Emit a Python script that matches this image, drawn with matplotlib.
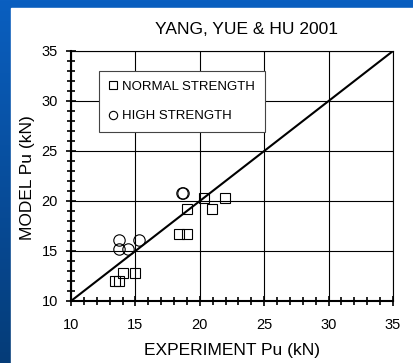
import numpy as np
import matplotlib
matplotlib.use('Agg')
import matplotlib.pyplot as plt
from matplotlib.lines import Line2D
from matplotlib.patches import Rectangle
from matplotlib.colors import LinearSegmentedColormap

plt.rcParams['font.family'] = ['Liberation Sans', 'DejaVu Sans']

# ── Данные: эксперимент vs модель, Pu (kN)
normal_exp   = [13.4, 13.75, 14.0, 15.0, 18.4, 19.0, 19.0, 20.3, 20.95, 21.95]
normal_model = [12.05, 12.05, 12.8, 12.8, 16.7, 16.7, 19.2, 20.35, 19.2, 20.35]

high_exp   = [13.7, 13.7, 14.45, 15.25, 18.6, 18.7]
high_model = [16.1, 15.2, 15.2, 16.1, 20.85, 20.85]

fig = plt.figure(figsize=(4.14, 3.63), dpi=100)

# фон слайда: синий градиент + белая подложка
bg = fig.add_axes([0, 0, 1, 1], zorder=-2)
bg.axis('off')
cmap = LinearSegmentedColormap.from_list('slide', ['#0a5fc0', '#053c78'])
bg.imshow(np.linspace(0, 1, 256).reshape(-1, 1), aspect='auto', cmap=cmap,
          extent=[0, 1, 0, 1])
bg.add_patch(Rectangle((11 / 414, 0), 1, 1 - 8 / 363, color='white',
                       transform=bg.transAxes))
bg.set_xlim(0, 1); bg.set_ylim(0, 1)

ax = fig.add_axes([71 / 414, 62 / 363, 322 / 414, 250 / 363])
ax.set_xlim(10, 35)
ax.set_ylim(10, 35)

ax.plot([10, 35], [10, 35], color='black', linewidth=1.5)
ax.plot(normal_exp, normal_model, linestyle='none', marker='s',
        markersize=7.8, markerfacecolor='none', markeredgecolor='black',
        markeredgewidth=0.8)
ax.plot(high_exp, high_model, linestyle='none', marker='o',
        markersize=8.2, markerfacecolor='none', markeredgecolor='black',
        markeredgewidth=0.8)

ax.set_xticks(np.arange(10, 36, 5))
ax.set_yticks(np.arange(10, 36, 5))
ax.set_xticks(np.arange(10, 36, 1), minor=True)
ax.set_yticks(np.arange(10, 36, 1), minor=True)
ax.grid(True, which='major', color='black', linewidth=0.8)
ax.tick_params(which='both', direction='inout', top=False, right=False,
               labelsize=10.5, width=1.2)
ax.tick_params(which='major', length=7)
ax.tick_params(which='minor', length=6)
ax.tick_params(axis='x', pad=9)
ax.tick_params(axis='y', pad=6)
for s in ax.spines.values():
    s.set_linewidth(0.8)
ax.spines['left'].set_linewidth(1.5)
ax.spines['bottom'].set_linewidth(1.5)

fig.text(247 / 414, 1 - 30 / 363, 'YANG, YUE & HU 2001', ha='center',
         va='center', fontsize=12.5)
fig.text(232 / 414, 1 - 350 / 363, 'EXPERIMENT Pu (kN)', ha='center',
         va='center', fontsize=12.5)
fig.text(28 / 414, 1 - 178 / 363, 'MODEL Pu (kN)', ha='center',
         va='center', rotation=90, fontsize=12.5)

handles = [
    Line2D([], [], linestyle='none', marker='s', markersize=6,
           markerfacecolor='none', markeredgecolor='black',
           markeredgewidth=0.8, label='NORMAL STRENGTH'),
    Line2D([], [], linestyle='none', marker='o', markersize=6,
           markerfacecolor='none', markeredgecolor='black',
           markeredgewidth=0.8, label='HIGH STRENGTH'),
]
leg = ax.legend(handles=handles, loc='upper left',
                bbox_to_anchor=(0.086, 0.921), fontsize=9.5,
                fancybox=False, framealpha=1, edgecolor='#444444',
                handlelength=0.6, handletextpad=0.4, borderpad=0.75,
                labelspacing=1.3, borderaxespad=0)
leg.get_frame().set_linewidth(0.8)

fig.savefig('out.png', dpi=100)
